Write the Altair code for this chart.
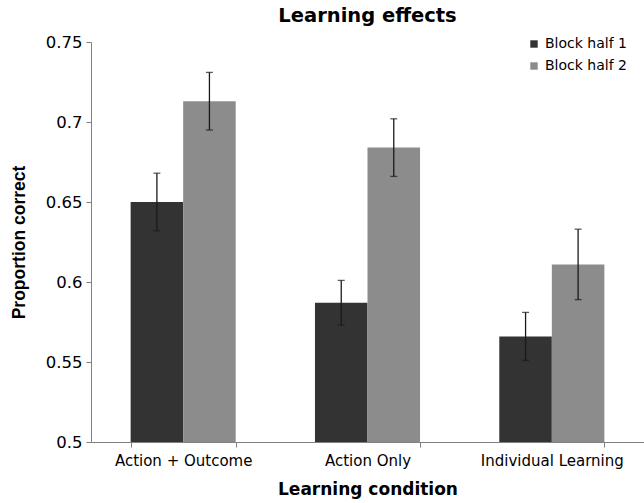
import altair as alt
import pandas as pd

# Learning condition categories and block halves
conditions = ["Action + Outcome", "Action Only", "Individual Learning"]
halves = ["Block half 1", "Block half 2"]

# Mean proportion correct per condition, for each block half
half1_means = [0.650, 0.587, 0.566]
half2_means = [0.713, 0.684, 0.611]

# Standard errors (error bar half-lengths)
half1_errs = [0.018, 0.014, 0.015]
half2_errs = [0.018, 0.018, 0.022]

y_ticks = [0.5, 0.55, 0.6, 0.65, 0.7, 0.75]

rows = []
for i, c in enumerate(conditions):
    rows.append({"condition": c, "half": halves[0], "value": half1_means[i], "err": half1_errs[i]})
    rows.append({"condition": c, "half": halves[1], "value": half2_means[i], "err": half2_errs[i]})
df = pd.DataFrame(rows)

FONT = "DejaVu Sans"
YTITLE_FONT = "Liberation Sans"

x_enc = alt.X(
    "condition:N",
    sort=conditions,
    scale=alt.Scale(paddingInner=0.43, paddingOuter=0.215),
    axis=alt.Axis(
        title="Learning condition",
        labelAngle=0,
        tickBand="extent",
        tickSize=5,
        labelPadding=6,
        titlePadding=13,
        labelFontSize=15,
        titleFontSize=17,
    ),
)
xoff = alt.XOffset("half:N", sort=halves, scale=alt.Scale(paddingInner=0, paddingOuter=0))

bars = alt.Chart(df).mark_bar().encode(
    x=x_enc,
    xOffset=xoff,
    y=alt.Y(
        "value:Q",
        scale=alt.Scale(domain=[0.5, 0.75], nice=False, zero=False, clamp=True),
        axis=alt.Axis(
            title="Proportion correct",
            values=y_ticks,
            labelExpr="format(datum.value, '~g')",
            tickSize=5,
            labelPadding=4,
            titlePadding=17,
            labelFontSize=16.5,
            titleFont=YTITLE_FONT,
            titleFontSize=17.5,
            grid=False,
        ),
    ),
    color=alt.Color(
        "half:N",
        sort=halves,
        scale=alt.Scale(domain=halves, range=["#333333", "#8c8c8c"]),
        legend=alt.Legend(
            title=None,
            orient="none",
            legendX=436,
            legendY=-5,
            symbolType="square",
            symbolSize=55,
            symbolStrokeWidth=0,
            labelFontSize=14,
            rowPadding=8,
            labelOffset=4,
        ),
    ),
)

err_base = alt.Chart(df).transform_calculate(
    lo="datum.value - datum.err", hi="datum.value + datum.err"
)

err_rules = err_base.mark_rule(color="#1a1a1a", strokeWidth=1.3).encode(
    x=alt.X("condition:N", sort=conditions),
    xOffset=xoff,
    y="lo:Q",
    y2="hi:Q",
)

cap_lo = err_base.mark_tick(color="#1a1a1a", size=7, thickness=1.3, orient="horizontal").encode(
    x=alt.X("condition:N", sort=conditions),
    xOffset=xoff,
    y="lo:Q",
)
cap_hi = err_base.mark_tick(color="#1a1a1a", size=7, thickness=1.3, orient="horizontal").encode(
    x=alt.X("condition:N", sort=conditions),
    xOffset=xoff,
    y="hi:Q",
)

chart = (
    alt.layer(bars, err_rules, cap_lo, cap_hi)
    .properties(
        width=553,
        height=400,
        title=alt.TitleParams("Learning effects", fontSize=19.5, fontWeight="bold", anchor="middle", offset=8),
        autosize=alt.AutoSizeParams(type="none"),
        padding={"left": 91, "top": 42, "right": 0, "bottom": 61},
    )
    .configure(font=FONT)
    .configure_view(stroke=None)
    .configure_axis(
        domainColor="#808080",
        tickColor="#808080",
        labelColor="#000000",
        titleColor="#000000",
        labelFont=FONT,
        titleFont=FONT,
        titleFontWeight="bold",
    )
    .configure_legend(labelFont=FONT, labelColor="#000000")
    .configure_title(font=FONT, color="#000000")
)

chart.save("out.html", embed_options={"renderer": "svg", "actions": False})
